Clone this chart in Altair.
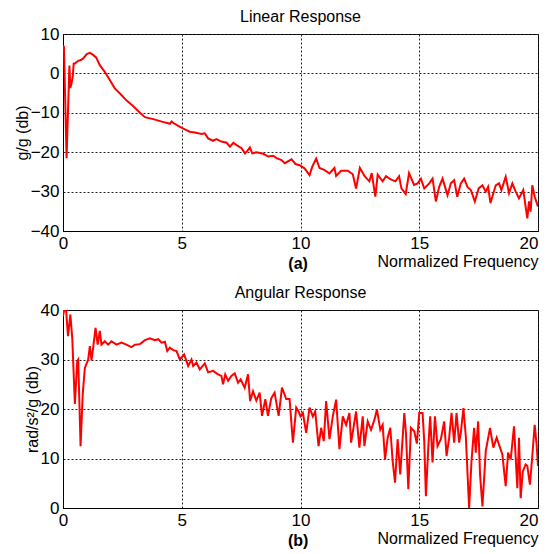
import altair as alt
import pandas as pd

FONT = "Liberation Sans"
W, H = 475, 197

# Linear response (top panel)
lin_x = [0.0, 0.04, 0.15, 0.27, 0.31, 0.36, 0.41, 0.45, 0.5, 0.64, 0.75, 0.85, 1.0, 1.13,
         1.27, 1.4, 1.55, 1.76, 1.97, 2.18, 2.4, 2.68, 2.95, 3.24, 3.45, 3.8, 4.2, 4.5,
         4.57, 4.65, 4.85, 5.13, 5.34, 5.55, 5.83, 5.97, 6.11, 6.32, 6.46, 6.67, 6.89,
         7.03, 7.17, 7.31, 7.52, 7.66, 7.77, 7.87, 7.97, 8.15, 8.43, 8.64, 8.85, 8.99,
         9.2, 9.34, 9.62, 9.79, 9.96, 10.17, 10.38, 10.5, 10.66, 10.8, 11.0, 11.22,
         11.43, 11.5, 11.71, 11.99, 12.2, 12.34, 12.5, 12.7, 12.9, 13.0, 13.15, 13.25,
         13.46, 13.6, 13.8, 14.0, 14.15, 14.25, 14.43, 14.57, 14.78, 14.93, 15.07,
         15.21, 15.42, 15.56, 15.7, 15.84, 15.98, 16.19, 16.33, 16.47, 16.6, 16.75,
         16.89, 17.03, 17.17, 17.34, 17.5, 17.66, 17.8, 17.9, 18.0, 18.22, 18.36,
         18.46, 18.64, 18.78, 18.92, 19.06, 19.2, 19.38, 19.55, 19.62, 19.69, 19.76,
         19.86, 20.0]
lin_y = [7.0, 6.8, -21.5, 2.0, -3.7, -2.5, -0.8, 2.5, 2.5, 3.2, 3.4, 3.8, 4.9, 5.2,
         4.7, 4.0, 2.1, 0.4, -1.7, -3.8, -5.1, -6.9, -8.3, -10.0, -11.1, -11.6, -12.3, -12.8,
         -12.2, -12.6, -13.3, -14.2, -14.8, -15.0, -15.4, -15.2, -16.5, -17.1, -16.7, -17.3, -17.6,
         -18.6, -17.6, -18.2, -19.0, -20.3, -19.6, -18.8, -20.3, -20.0, -20.4, -21.1, -20.9, -21.5,
         -22.0, -22.8, -21.8, -23.0, -23.3, -24.1, -25.8, -23.6, -21.6, -24.0, -24.5, -25.4,
         -24.0, -26.0, -24.7, -24.7, -25.6, -29.2, -24.0, -26.1, -27.4, -25.3, -31.3, -25.7,
         -27.4, -26.1, -26.9, -27.4, -26.1, -29.2, -30.6, -25.3, -28.3, -27.9, -26.7,
         -29.2, -27.9, -26.7, -32.5, -28.8, -26.7, -30.9, -27.9, -27.1, -31.3, -27.9,
         -26.7, -28.8, -29.6, -32.5, -29.2, -28.4, -30.0, -28.8, -32.9, -28.4, -27.9,
         -29.6, -26.2, -30.4, -27.9, -30.0, -31.7, -29.6, -36.8, -32.5, -35.1, -28.4,
         -31.3, -33.8]

# Angular response (bottom panel)
ang_x = [0.0, 0.05, 0.13, 0.21, 0.31, 0.39, 0.5, 0.6, 0.64, 0.74, 0.83, 0.92, 1.06, 1.13,
         1.2, 1.27, 1.37, 1.46, 1.55, 1.62, 1.76, 1.9, 2.04, 2.25, 2.46, 2.67, 2.88, 3.03,
         3.24, 3.45, 3.66, 3.87, 4.01, 4.15, 4.29, 4.39, 4.5, 4.64, 4.78, 4.92, 5.1, 5.27,
         5.41, 5.48, 5.62, 5.76, 5.97, 6.11, 6.32, 6.53, 6.67, 6.74, 6.83, 6.95, 7.09,
         7.23, 7.37, 7.48, 7.65, 7.79, 7.88, 8.0, 8.14, 8.28, 8.38, 8.52, 8.63, 8.77,
         8.91, 9.08, 9.22, 9.4, 9.54, 9.68, 9.82, 9.92, 10.0, 10.1, 10.24, 10.38, 10.52,
         10.62, 10.76, 10.87, 10.98, 11.08, 11.22, 11.36, 11.5, 11.64, 11.78, 11.92,
         12.06, 12.13, 12.24, 12.34, 12.48, 12.62, 12.69, 12.83, 12.97, 13.11, 13.22,
         13.36, 13.46, 13.56, 13.67, 13.78, 13.88, 13.98, 14.09, 14.2, 14.37, 14.44,
         14.54, 14.65, 14.79, 14.9, 15.0, 15.14, 15.21, 15.28, 15.38, 15.46, 15.56,
         15.66, 15.77, 15.91, 16.05, 16.15, 16.26, 16.36, 16.47, 16.57, 16.68, 16.75,
         16.86, 16.96, 17.1, 17.2, 17.31, 17.38, 17.48, 17.56, 17.66, 17.8, 17.98,
         18.12, 18.26, 18.4, 18.5, 18.64, 18.74, 18.85, 18.99, 19.13, 19.2, 19.27,
         19.36, 19.48, 19.55, 19.66, 19.76, 19.86, 19.94, 20.0]
ang_y = [38.8, 40.0, 40.0, 34.7, 39.1, 34.3, 21.0, 29.7, 30.0, 12.5, 23.0, 28.3, 30.0, 32.7,
         29.8, 32.4, 36.4, 33.0, 35.8, 33.0, 33.7, 33.0, 33.7, 33.0, 33.4, 33.0, 32.5, 33.0,
         33.1, 33.9, 34.3, 33.9, 34.1, 33.4, 33.6, 31.7, 32.4, 31.9, 31.7, 30.0, 31.0, 28.7,
         30.0, 28.7, 29.4, 28.0, 29.2, 27.4, 27.7, 27.0, 26.7, 25.0, 27.0, 25.7, 26.7,
         27.2, 25.3, 26.0, 24.3, 27.0, 21.6, 23.6, 21.7, 23.3, 18.6, 22.0, 18.6, 22.2,
         23.3, 18.6, 24.3, 22.0, 22.0, 13.2, 20.3, 19.5, 18.5, 19.2, 15.2, 20.3, 18.5,
         19.5, 12.5, 16.2, 13.5, 21.6, 13.9, 18.5, 21.9, 11.9, 18.5, 16.8,
         19.2, 13.2, 16.5, 19.5, 12.2, 18.5, 12.5, 17.5, 15.8, 17.8, 19.9,
         15.8, 16.8, 9.8, 14.2, 16.2, 9.5, 5.1, 13.9, 6.8, 19.2, 15.2,
         3.8, 16.2, 15.5, 13.0, 19.2, 19.2, 13.5, 2.4, 12.2, 18.5, 9.2,
         18.5, 12.5, 13.9, 17.5, 10.5, 14.2, 19.2, 13.2, 19.2, 13.2, 15.2,
         20.2, 14.5, 0.0, 9.5, 16.2, 11.2, 17.5, 6.8, 0.3, 11.5, 16.2,
         12.2, 14.2, 12.2, 10.8, 4.4, 11.2, 9.8, 16.5, 4.0, 14.2, 2.0,
         7.4, 8.8, 8.5, 4.7, 10.5, 16.8, 12.9, 8.5]

x_ticks = [0, 5, 10, 15, 20]


def panel(xs, ys, title, ytitle, ydomain, yvalues, tag, h):
    df = pd.DataFrame({"f": xs, "v": ys})
    line = alt.Chart(df).mark_line(color="#ff0000", strokeWidth=2, clip=True).encode(
        x=alt.X("f:Q", scale=alt.Scale(domain=[0, 20], nice=False, zero=False),
                axis=alt.Axis(values=x_ticks, title="Normalized Frequency",
                              titleAnchor="end", titlePadding=2, labelFlush=False,
                              labelAlign={"condition": {"test": "datum.value == 20",
                                                        "value": "right"},
                                          "value": "center"})),
        y=alt.Y("v:Q", scale=alt.Scale(domain=ydomain, nice=False, zero=False),
                axis=alt.Axis(values=yvalues, title=ytitle, titlePadding=0,
                              labelFlush=False)),
    )
    label = alt.Chart(pd.DataFrame({"t": [tag]})).mark_text(
        font=FONT, fontSize=16, fontWeight="bold", baseline="middle", align="center",
        color="black"
    ).encode(x=alt.datum(9.9), y=alt.value(h + 33), text="t:N")
    return alt.layer(line, label).properties(
        width=W, height=h,
        title=alt.TitleParams(title, offset=0),
    )


top = panel(lin_x, lin_y, "Linear Response", "g/g (db)", [-40, 10],
            [-40, -30, -20, -10, 0, 10], "(a)", 197)
bottom = panel(ang_x, ang_y, "Angular Response", "rad/s²/g (db)", [0, 40],
               [0, 10, 20, 30, 40], "(b)", 198)

chart = alt.vconcat(top, bottom, spacing=11).properties(
    padding={"left": 5, "top": 0, "right": 0, "bottom": 0},
    background="white",
).configure_view(
    stroke="black", strokeWidth=1
).configure_axis(
    labelFont=FONT, titleFont=FONT, labelFontSize=17, titleFontSize=16,
    labelColor="black", titleColor="black", titleFontWeight="normal",
    domainColor="black", domainWidth=1, ticks=False, labelPadding=4,
    grid=True, gridColor="#222222", gridDash=[2, 2], gridWidth=1, gridOpacity=1,
).configure_title(
    font=FONT, fontSize=16, fontWeight="normal", color="black", anchor="middle"
)

chart.save("out.html", embed_options={"renderer": "svg", "actions": False})
